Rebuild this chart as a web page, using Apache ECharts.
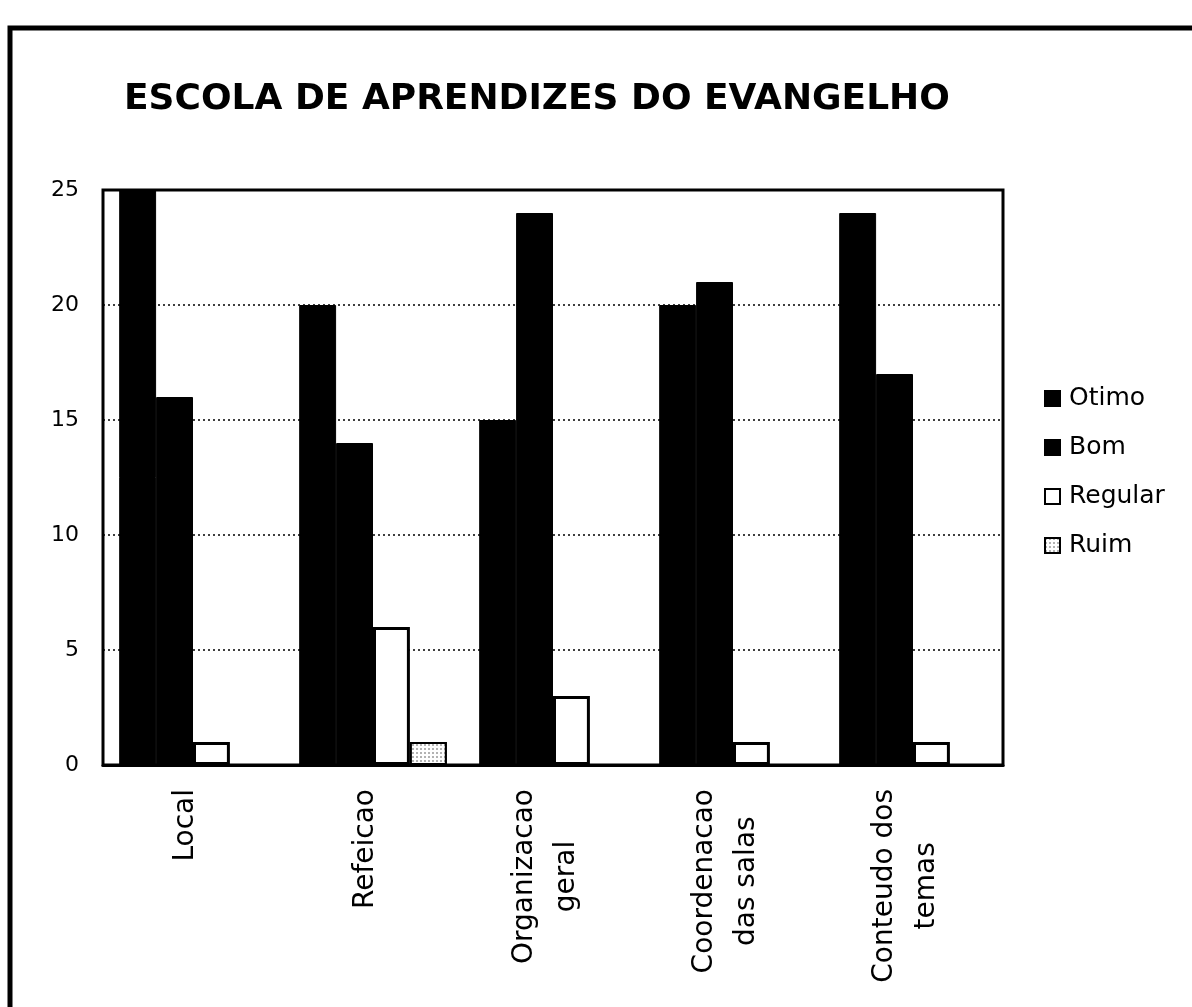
<!DOCTYPE html>
<html>
<head>
<meta charset="utf-8">
<title>Escola de Aprendizes do Evangelho</title>
<script src="https://cdn.jsdelivr.net/npm/echarts@6/dist/echarts.min.js"></script>
<style>
  html, body { margin: 0; padding: 0; background: #fff; }
  #chart { width: 1192px; height: 1007px; }
</style>
</head>
<body>
<div id="chart"></div>
<script>
// dados
var categorias = ["Local", "Refeicao", "Organizacao\ngeral", "Coordenacao\ndas salas", "Conteudo dos\ntemas"];
var otimo = [25, 20, 15, 20, 24];
var bom = [16, 14, 24, 21, 17];
var regular = [1, 6, 3, 1, 1];
var ruim = [0, 1, 0, 0, 0];
var ticksY = [0, 5, 10, 15, 20, 25];

(function () {
    var myChart = echarts.init(document.getElementById("chart"));
    var fonte = "DejaVu Sans";
    var option = {
        backgroundColor: "#fff",
        animation: false,
        title: {
            text: "ESCOLA DE APRENDIZES DO EVANGELHO",
            left: 119,
            top: 77,
            textStyle: {
                fontFamily: fonte,
                fontWeight: "bold",
                fontSize: 36,
                color: "#000"
            }
        },
        // moldura externa do scan
        graphic: [
            {
                type: "rect",
                shape: { x: 10, y: 28, width: 1200, height: 1000 },
                style: { fill: "none", stroke: "#000", lineWidth: 5 },
                silent: true
            }
        ],
        legend: {
            orient: "vertical",
            left: 1039,
            top: 381,
            itemWidth: 15,
            itemHeight: 15,
            itemGap: 24,
            icon: "rect",
            textStyle: { fontFamily: fonte, fontSize: 25, color: "#000", padding: [0, 0, 0, 4] },
            data: ["Otimo", "Bom", "Regular", "Ruim"]
        },
        grid: {
            left: 103,
            right: 189,
            top: 190,
            bottom: 242,
            show: true,
            borderColor: "#000",
            borderWidth: 3,
            backgroundColor: "transparent"
        },
        xAxis: {
            type: "category",
            data: categorias,
            axisTick: { show: false },
            axisLine: { show: true, lineStyle: { color: "#000", width: 3 } },
            axisLabel: {
                rotate: 90,
                interval: 0,
                margin: 24,
                padding: [0, 0, 14, 0],
                // linhas centralizadas, como no original
                formatter: function (v) {
                    return v.split("\n").map(function (s) { return "{l|" + s + "}"; }).join("\n");
                },
                rich: {
                    l: {
                        align: "center",
                        fontFamily: fonte,
                        fontSize: 28,
                        lineHeight: 42,
                        color: "#000"
                    }
                }
            }
        },
        yAxis: {
            type: "value",
            min: ticksY[0],
            max: ticksY[ticksY.length - 1],
            interval: 5,
            axisLine: { show: false },
            axisTick: { show: false },
            axisLabel: {
                margin: 24,
                fontFamily: fonte,
                fontSize: 22,
                color: "#000"
            },
            splitLine: {
                lineStyle: { color: "#000", type: [2, 3], width: 1.5 }
            }
        },
        series: [
            {
                name: "Otimo",
                type: "bar",
                data: otimo,
                barGap: "0%",
                barCategoryGap: "18%",
                itemStyle: { color: "#000", borderColor: "#000", borderWidth: 1 }
            },
            {
                name: "Bom",
                type: "bar",
                data: bom,
                itemStyle: { color: "#000", borderColor: "#000", borderWidth: 1 }
            },
            {
                name: "Regular",
                type: "bar",
                data: regular,
                itemStyle: { color: "#fff", borderColor: "#000", borderWidth: 3 }
            },
            {
                name: "Ruim",
                type: "bar",
                data: ruim,
                itemStyle: {
                    color: "#fff",
                    borderColor: "#000",
                    borderWidth: 2,
                    decal: {
                        symbol: "rect",
                        symbolSize: 0.6,
                        color: "#000",
                        backgroundColor: "#fff",
                        dashArrayX: [2, 2],
                        dashArrayY: [2, 2],
                        rotation: 0
                    }
                }
            }
        ]
    };
    myChart.setOption(option);
    window.addEventListener("resize", function () {
        myChart.resize();
    });
})();
</script>
</body>
</html>
